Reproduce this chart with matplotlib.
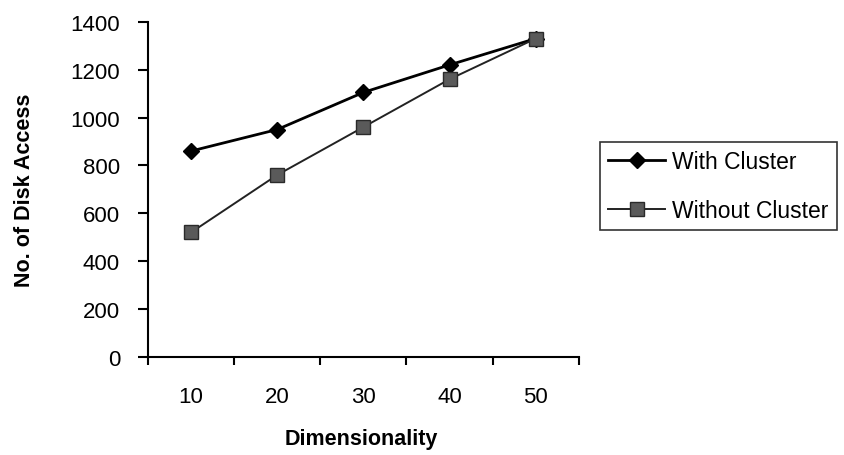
import matplotlib
matplotlib.use("Agg")
import matplotlib.pyplot as plt
from matplotlib.ticker import FixedLocator

plt.rcParams['font.family'] = ['Liberation Sans', 'DejaVu Sans']

categories = ["10", "20", "30", "40", "50"]
with_cluster = [860, 950, 1105, 1220, 1330]
without_cluster = [520, 760, 960, 1160, 1330]
y_ticks = [0, 200, 400, 600, 800, 1000, 1200, 1400]

fig = plt.figure(figsize=(8.45, 4.56), dpi=100)
ax = fig.add_axes([0.175, 0.215, 0.51, 0.735])

x = list(range(len(categories)))
ax.plot(x, with_cluster, color='black', lw=2.0, marker='D', ms=8.5,
        mfc='black', mec='black', label='With Cluster')
ax.plot(x, without_cluster, color='#222222', lw=1.4, marker='s', ms=10,
        mfc='#5a5a5a', mec='#2a2a2a', mew=1.0, label='Without Cluster')

ax.set_xlim(-0.5, len(categories) - 0.5)
ax.set_ylim(0, 1400)
ax.set_yticks(y_ticks)
ax.set_xticks(x)
ax.set_xticklabels(categories)
ax.xaxis.set_minor_locator(FixedLocator([i - 0.5 for i in range(len(categories) + 1)]))

for s in ['top', 'right']:
    ax.spines[s].set_visible(False)
for s in ['left', 'bottom']:
    ax.spines[s].set_linewidth(1.5)

ax.tick_params(axis='y', which='major', direction='out', length=7, width=1.5, pad=13, labelsize=16)
ax.tick_params(axis='x', which='major', length=0, pad=21, labelsize=16)
ax.tick_params(axis='x', which='minor', direction='out', length=6, width=1.5)

ax.set_ylabel('No. of Disk Access', fontsize=15.5, fontweight='bold')
ax.yaxis.set_label_coords(-0.262, 0.5)
ax.set_xlabel('Dimensionality', fontsize=15.5, fontweight='bold')
ax.xaxis.set_label_coords(0.495, -0.213)

leg = fig.legend(loc='upper left', bbox_to_anchor=(600/845, 1 - 143/456), fontsize=16.5,
                 frameon=True, fancybox=False, edgecolor='black', handlelength=2.5,
                 handletextpad=0.3, labelspacing=1.15, borderpad=0.35, borderaxespad=0)
leg.get_frame().set_linewidth(1.2)

fig.savefig('out.png', dpi=100, facecolor='white')
